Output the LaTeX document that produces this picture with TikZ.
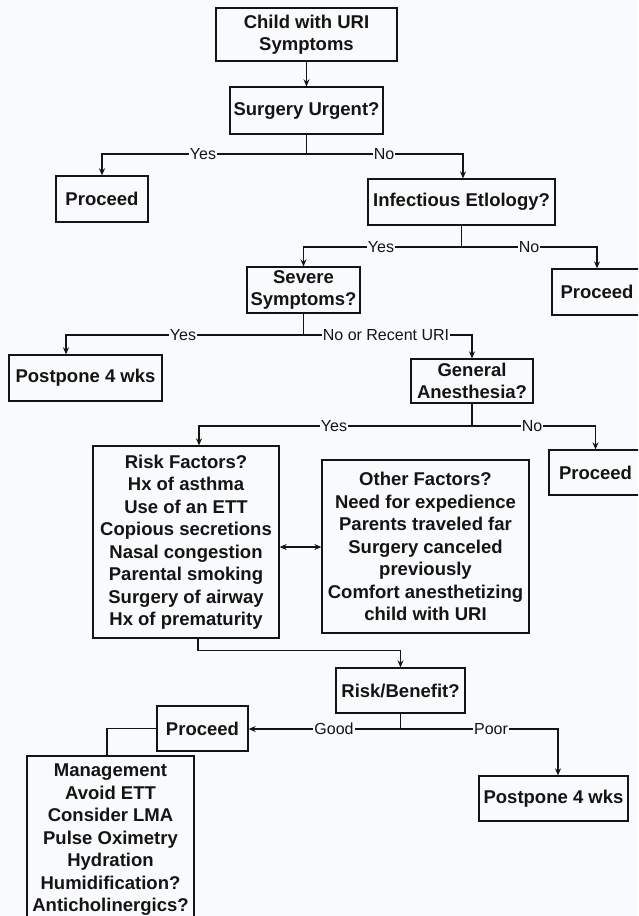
\documentclass[tikz,border=0pt]{standalone}
\usepackage{fontspec}
\setmainfont{Liberation Sans}
\usetikzlibrary{arrows.meta}
\definecolor{bg}{RGB}{248,250,252}
\definecolor{ink}{RGB}{20,20,20}
\begin{document}
\begin{tikzpicture}[x=1pt,y=-1pt,
  box/.style={draw=ink, line width=1.3pt, inner sep=0pt, align=center, text=ink,
    font=\fontsize{18.5}{22.5}\selectfont\bfseries},
  twoline/.style={font=\fontsize{18.5}{21}\selectfont\bfseries, yshift=-1.5pt},
  lbl/.style={fill=bg, inner sep=1.2pt, text=ink, font=\fontsize{16}{18}\selectfont},
  ln/.style={draw=ink, line width=1.3pt},
  arr/.style={ln, -{Stealth[length=7pt,width=6pt]}},
  arrb/.style={ln, {Stealth[length=7pt,width=6pt]}-{Stealth[length=7pt,width=6pt]}}]
\useasboundingbox (0,0) rectangle (638,916);
\fill[bg] (0,0) rectangle (638,916);
\clip (0,0) rectangle (638,916);

% nodes
\node[box, minimum width=181pt, minimum height=53pt] (child) at (306.5,34.5) {\rule{0pt}{14pt}Child with URI\\Symptoms\rule[-3pt]{0pt}{3pt}};
\node[box, minimum width=153pt, minimum height=47pt] (urgent) at (306.5,110.5) {Surgery Urgent?};
\node[box, minimum width=92pt, minimum height=46pt] (proc1) at (102,199) {Proceed};
\node[box, minimum width=187pt, minimum height=46pt] (infect) at (461.5,202) {Infectious Etlology?};
\node[box, minimum width=113pt, minimum height=46pt] (severe) at (303.5,290) {Severe\\Symptoms?};
\node[box, minimum width=90pt, minimum height=46pt] (proc2) at (597,292) {Proceed};
\node[box, minimum width=153pt, minimum height=46pt] (post1) at (85.5,378) {Postpone 4 wks};
\node[box, minimum width=122pt, minimum height=44pt] (genan) at (472,381) {General\\Anesthesia?};
\node[box, minimum width=93pt, minimum height=45pt] (proc3) at (595.5,472.5) {Proceed};
\node[box, minimum width=186pt, minimum height=192pt] (risk) at (186,542) {Risk Factors?\\Hx of asthma\\Use of an ETT\\Copious secretions\\Nasal congestion\\Parental smoking\\Surgery of airway\\Hx of prematurity};
\node[box, minimum width=207pt, minimum height=173pt] (other) at (425.5,546.5) {Other Factors?\\Need for expedience\\Parents traveled far\\Surgery canceled\\previously\\Comfort anesthetizing\\child with URI};
\node[box, minimum width=129pt, minimum height=45pt] (rb) at (400.5,690.5) {Risk/Benefit?};
\node[box, minimum width=91pt, minimum height=45pt] (proc4) at (202.5,728.5) {Proceed};
\node[box, minimum width=149pt, minimum height=45pt] (post2) at (553.5,798.5) {Postpone 4 wks};
\node[box, minimum width=167pt, minimum height=164pt, text depth=0pt] (mgmt) at (110.5,838) {Management\\Avoid ETT\\Consider LMA\\Pulse Oximetry\\Hydration\\Humidification?\\Anticholinergics?};

% split points
\coordinate (s1) at (306.5,154);
\coordinate (s2) at (461.5,247);
\coordinate (s3) at (303.5,335);
\coordinate (s4) at (472,426);
\coordinate (s5) at (400.5,729);

% connectors
\draw[arr] (child) -- (urgent);
\draw[ln] (urgent.south) -- (s1);
\draw[arr] (s1) -| (proc1.north);
\draw[arr] (s1) -| ([xshift=1.5pt]infect.north);

\draw[ln] (infect.south) -- (s2);
\draw[arr] (s2) -| (severe.north);
\draw[arr] (s2) -| (proc2.north);

\draw[ln] (severe.south) -- (s3);
\draw[arr] (s3) -| ([xshift=-19.5pt]post1.north);
\draw[arr] (s3) -| (genan.north);

\draw[ln] (genan.south) -- (s4);
\draw[arr] (s4) -| ([xshift=13pt]risk.north);
\draw[arr] (s4) -| (proc3.north);

\draw[arrb] ([yshift=-5pt]risk.east) -- ([yshift=-5pt]risk.east -| other.west);

\draw[arr] ([xshift=12pt]risk.south) -- ++(0,12) -| (rb.north);

\draw[ln] (rb.south) -- (s5);
\draw[arr] (s5) -- (s5 -| proc4.east);
\draw[arr] (s5) -| ([xshift=4.5pt]post2.north);

\draw[ln] (proc4.west) -| ([xshift=-3.5pt]mgmt.north);

% labels
\node[lbl] (l1) at (203,154) {Yes};
\node[lbl] (l2) at (384,154) {No};
\node[lbl] (l3) at (381,247) {Yes};
\node[lbl] (l4) at (529,247) {No};
\node[lbl] (l5) at (183,335) {Yes};
\node[lbl] (l6) at (386,335) {No or Recent URI};
\node[lbl] (l7) at (334,426) {Yes};
\node[lbl] (l8) at (532,426) {No};
\node[lbl] (l9) at (334,729) {Good};
\node[lbl] (l10) at (491,729) {Poor};
\end{tikzpicture}
\end{document}
